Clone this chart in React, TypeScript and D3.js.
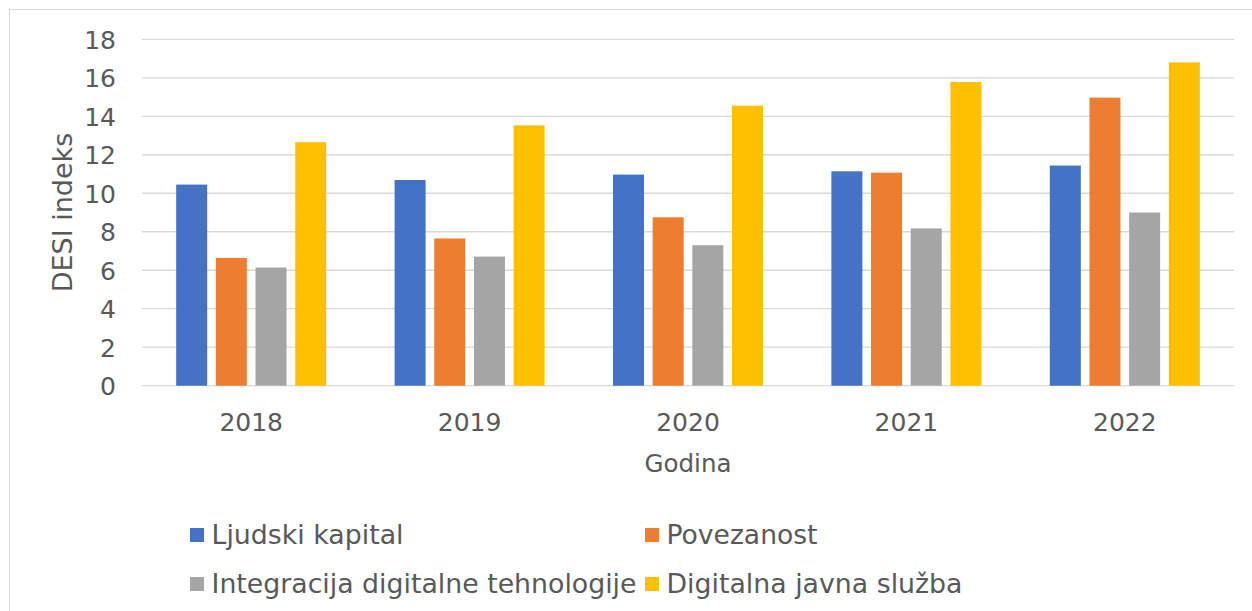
import React from "react";
import * as d3 from "d3";

const years = ["2018", "2019", "2020", "2021", "2022"];
const seriesNames = [
  "Ljudski kapital",
  "Povezanost",
  "Integracija digitalne tehnologije",
  "Digitalna javna služba",
];
const ljudskiKapital = [10.45, 10.69, 10.97, 11.14, 11.44];
const povezanost = [6.64, 7.65, 8.75, 11.07, 14.97];
const integracija = [6.14, 6.71, 7.3, 8.17, 9.0];
const javnaSluzba = [12.65, 13.53, 14.55, 15.78, 16.8];
const yTicks = [0, 2, 4, 6, 8, 10, 12, 14, 16, 18];
const colors = ["#4472C4", "#ED7D31", "#A5A5A5", "#FFC000"];

const seriesValues = [ljudskiKapital, povezanost, integracija, javnaSluzba];

export default function App() {
  const W = 1252;
  const H = 611;
  const left = 142;
  const right = 1234;
  const top = 39.3;
  const bottom = 385.7;
  const textColor = "#595959";
  const font = "'DejaVu Sans', Verdana, sans-serif";

  const y = d3.scaleLinear().domain([0, 18]).range([bottom, top]);
  const x0 = d3
    .scaleBand<string>()
    .domain(years)
    .range([left, right])
    .paddingInner(0.313)
    .paddingOuter(0.1565);
  const x1 = d3
    .scaleBand<number>()
    .domain(d3.range(seriesNames.length))
    .range([0, x0.bandwidth()])
    .paddingInner(0.2185)
    .paddingOuter(0);

  const legendPos = [
    { x: 190, y: 528 },
    { x: 645, y: 528 },
    { x: 190, y: 577 },
    { x: 645, y: 577 },
  ];
  const legendWidths = [192, 151, 425, 296];

  return (
    <svg
      width={W}
      height={H}
      style={{ position: "absolute", left: 0, top: 0, background: "#fff" }}
      fontFamily={font}
    >
      <rect x={9.5} y={9.5} width={1300} height={700} fill="#fff" stroke="#d9d9d9" strokeWidth={1} />
      {yTicks.map((t) => (
        <g key={t}>
          <line x1={left} x2={right} y1={y(t)} y2={y(t)} stroke="#d9d9d9" strokeWidth={1.3} />
          <text x={116} y={y(t) + 9.5} textAnchor="end" fontSize={25} fill={textColor}>
            {t}
          </text>
        </g>
      ))}
      {years.map((yr, i) => (
        <g key={yr}>
          {seriesValues.map((vals, s) => (
            <rect
              key={s}
              x={(x0(yr) as number) + (x1(s) as number)}
              y={y(vals[i])}
              width={x1.bandwidth()}
              height={y(0) - y(vals[i])}
              fill={colors[s]}
            />
          ))}
          <text
            x={(x0(yr) as number) + x0.bandwidth() / 2}
            y={431}
            textAnchor="middle"
            fontSize={25}
            fill={textColor}
          >
            {yr}
          </text>
        </g>
      ))}
      <text x={(left + right) / 2} y={471.5} textAnchor="middle" fontSize={24.5} fill={textColor}>
        Godina
      </text>
      <text
        transform={`translate(71.5, ${(top + bottom) / 2}) rotate(-90)`}
        textAnchor="middle"
        fontSize={27}
        fill={textColor}
      >
        DESI indeks
      </text>
      {seriesNames.map((n, i) => (
        <g key={n}>
          <rect x={legendPos[i].x} y={legendPos[i].y} width={14} height={14} fill={colors[i]} />
          <text
            x={legendPos[i].x + 21.5}
            y={legendPos[i].y + 15.5}
            fontSize={26.5}
            fill={textColor}
            textLength={legendWidths[i]}
            lengthAdjust="spacingAndGlyphs"
          >
            {n}
          </text>
        </g>
      ))}
    </svg>
  );
}
